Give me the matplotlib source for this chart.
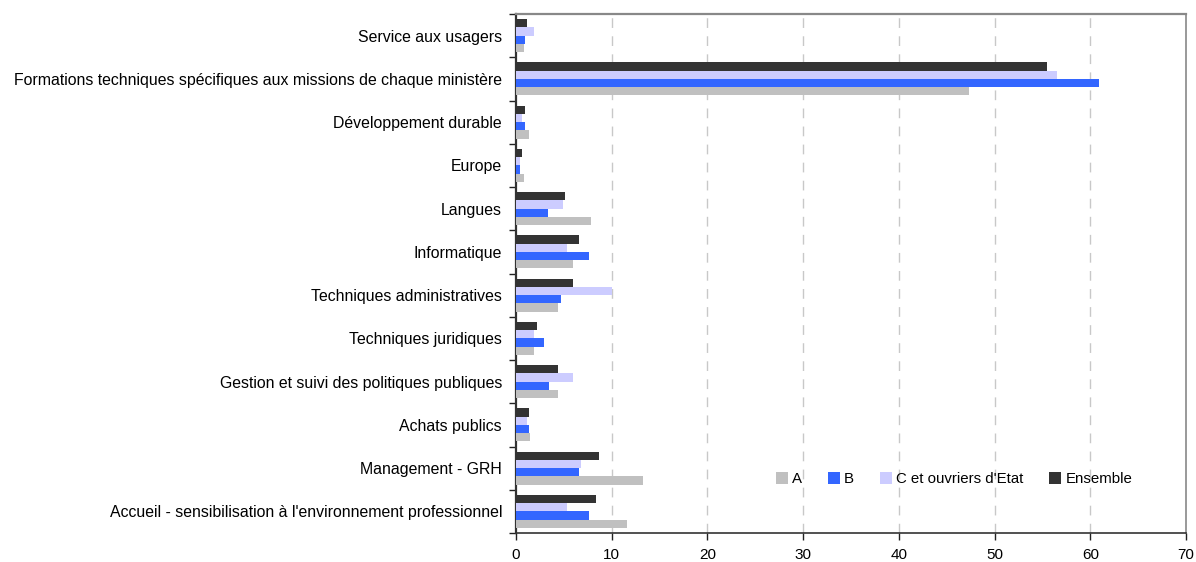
import matplotlib
matplotlib.use("Agg")
import matplotlib.pyplot as plt
import numpy as np

categories = [
    "Service aux usagers",
    "Formations techniques spécifiques aux missions de chaque ministère",
    "Développement durable",
    "Europe",
    "Langues",
    "Informatique",
    "Techniques administratives",
    "Techniques juridiques",
    "Gestion et suivi des politiques publiques",
    "Achats publics",
    "Management - GRH",
    "Accueil - sensibilisation à l'environnement professionnel",
]
series_names = ["A", "B", "C et ouvriers d'Etat", "Ensemble"]
vals_A = [0.84, 47.3, 1.36, 0.84, 7.84, 5.96, 4.39, 1.88, 4.39, 1.46, 13.28, 11.6]
vals_B = [0.94, 60.9, 0.94, 0.42, 3.34, 7.63, 4.70, 2.93, 3.45, 1.36, 6.59, 7.63]
vals_C = [1.88, 56.5, 0.63, 0.42, 4.91, 5.33, 10.03, 1.88, 5.96, 1.15, 6.79, 5.33]
vals_E = [1.15, 55.5, 0.94, 0.63, 5.12, 6.59, 5.96, 2.20, 4.39, 1.36, 8.68, 8.36]
colors = ["#C0C0C0", "#3366FF", "#CCCCFF", "#333333"]
xticks = [0, 10, 20, 30, 40, 50, 60, 70]

plt.rcParams['font.family'] = ['Liberation Sans', 'DejaVu Sans']
fig = plt.figure(figsize=(11.96, 5.62), dpi=100)
ax = fig.add_axes([516/1196, 1-533/562, 670/1196, 519/562])

y = np.arange(len(categories))
h = 0.19
offsets = [1.5*h, 0.5*h, -0.5*h, -1.5*h]
for vals, off, col, name in zip([vals_A, vals_B, vals_C, vals_E], offsets, colors, series_names):
    ax.barh(y + off, vals, height=h, color=col, label=name, zorder=3)

ax.set_ylim(len(categories) - 0.5, -0.5)
ax.set_xlim(0, 70)
ax.set_xticks(xticks)
ax.set_xticklabels([str(t) for t in xticks], fontsize=11)
ax.set_yticks(y)
ax.set_yticklabels(categories, fontsize=11.4)
ax.tick_params(axis='y', which='major', length=0, pad=10)
ax.set_yticks(np.arange(-0.5, len(categories), 1), minor=True)
ax.tick_params(axis='y', which='minor', length=5, width=1, color='#222222')
ax.tick_params(axis='x', length=5, width=1, color='#222222', pad=6)

for xv in xticks[1:-1]:
    ax.axvline(xv, color='#C8C8C8', linestyle=(0, (7, 6)), linewidth=1.0, zorder=1)

ax.spines['left'].set_color('#333333')
ax.spines['left'].set_linewidth(1.6)
ax.spines['bottom'].set_color('#333333')
ax.spines['bottom'].set_linewidth(1.2)
ax.spines['top'].set_color('#888888')
ax.spines['top'].set_linewidth(1.6)
ax.spines['right'].set_color('#888888')
ax.spines['right'].set_linewidth(1.2)

leg = ax.legend(loc='center', bbox_to_anchor=((954-516)/670, 1-(479-14)/519), ncol=4, frameon=False,
                fontsize=10.8, handlelength=0.8, handleheight=0.8, handletextpad=0.3, columnspacing=1.7)

fig.savefig("out.png", dpi=100)
